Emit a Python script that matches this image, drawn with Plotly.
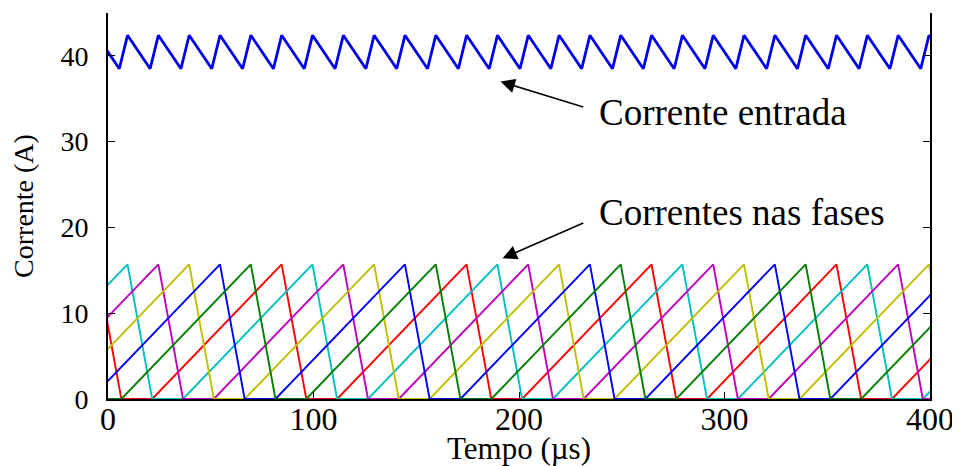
import plotly.graph_objects as go

# Input current (breakpoints of the sawtooth)
t_input = [-5.5, 5.5, 9.5, 20.5, 24.5, 35.5, 39.5, 50.5, 54.5, 65.5, 69.5, 80.5,
           84.5, 95.5, 99.5, 110.5, 114.5, 125.5, 129.5, 140.5, 144.5, 155.5,
           159.5, 170.5, 174.5, 185.5, 189.5, 200.5, 204.5, 215.5, 219.5, 230.5,
           234.5, 245.5, 249.5, 260.5, 264.5, 275.5, 279.5, 290.5, 294.5, 305.5,
           309.5, 320.5, 324.5, 335.5, 339.5, 350.5, 354.5, 365.5, 369.5, 380.5,
           384.5, 395.5, 399.5, 410.5]
i_input = [42.4, 38.5, 42.4, 38.5, 42.4, 38.5, 42.4, 38.5, 42.4, 38.5, 42.4, 38.5,
           42.4, 38.5, 42.4, 38.5, 42.4, 38.5, 42.4, 38.5, 42.4, 38.5,
           42.4, 38.5, 42.4, 38.5, 42.4, 38.5, 42.4, 38.5, 42.4, 38.5,
           42.4, 38.5, 42.4, 38.5, 42.4, 38.5, 42.4, 38.5, 42.4, 38.5,
           42.4, 38.5, 42.4, 38.5, 42.4, 38.5, 42.4, 38.5, 42.4, 38.5,
           42.4, 38.5, 42.4, 38.5]

# Phase currents (breakpoints)
t_red = [-5.5, 6.5, 21.5, 84.5, 96.5, 111.5, 174.5, 186.5, 201.5, 264.5, 276.5,
         291.5, 354.5, 366.5, 381.5, 444.5]
i_red = [15.7, 0, 0, 15.7, 0, 0, 15.7, 0, 0, 15.7, 0, 0, 15.7, 0, 0, 15.7]

t_cyan = [-53.5, 9.5, 21.5, 36.5, 99.5, 111.5, 126.5, 189.5, 201.5, 216.5, 279.5,
          291.5, 306.5, 369.5, 381.5, 396.5, 459.5]
i_cyan = [0, 15.7, 0, 0, 15.7, 0, 0, 15.7, 0, 0, 15.7, 0, 0, 15.7, 0, 0, 15.7]

t_magenta = [-38.5, 24.5, 36.5, 51.5, 114.5, 126.5, 141.5, 204.5, 216.5, 231.5,
             294.5, 306.5, 321.5, 384.5, 396.5, 411.5]
i_magenta = [0, 15.7, 0, 0, 15.7, 0, 0, 15.7, 0, 0, 15.7, 0, 0, 15.7, 0, 0]

t_yellow = [-23.5, 39.5, 51.5, 66.5, 129.5, 141.5, 156.5, 219.5, 231.5, 246.5,
            309.5, 321.5, 336.5, 399.5, 411.5]
i_yellow = [0, 15.7, 0, 0, 15.7, 0, 0, 15.7, 0, 0, 15.7, 0, 0, 15.7, 0]

t_blue = [-8.5, 54.5, 66.5, 81.5, 144.5, 156.5, 171.5, 234.5, 246.5, 261.5,
          324.5, 336.5, 351.5, 414.5]
i_blue = [0, 15.7, 0, 0, 15.7, 0, 0, 15.7, 0, 0, 15.7, 0, 0, 15.7]

t_green = [-20.5, -8.5, 6.5, 69.5, 81.5, 96.5, 159.5, 171.5, 186.5, 249.5, 261.5,
           276.5, 339.5, 351.5, 366.5, 429.5]
i_green = [15.7, 0, 0, 15.7, 0, 0, 15.7, 0, 0, 15.7, 0, 0, 15.7, 0, 0, 15.7]

x_ticks = [0, 100, 200, 300, 400]
y_ticks = [0, 10, 20, 30, 40]

phases = [
    (t_red, i_red, "rgb(255,0,0)"),
    (t_cyan, i_cyan, "rgb(0,191,191)"),
    (t_magenta, i_magenta, "rgb(191,0,191)"),
    (t_yellow, i_yellow, "rgb(191,191,0)"),
    (t_blue, i_blue, "rgb(0,0,255)"),
    (t_green, i_green, "rgb(0,128,0)"),
]

FONT = "Liberation Serif, Times New Roman, serif"

fig = go.Figure()
for t, i, c in phases:
    fig.add_trace(go.Scatter(x=t, y=i, mode="lines",
                             line=dict(color=c, width=1.9), showlegend=False))
fig.add_trace(go.Scatter(x=t_input, y=i_input, mode="lines",
                         line=dict(color="rgb(0,0,235)", width=2.8), showlegend=False))

fig.add_annotation(x=191, y=37.0, ax=232, ay=34.0, xref="x", yref="y",
                   axref="x", ayref="y", text="", showarrow=True,
                   arrowhead=2, arrowsize=1.8, arrowwidth=1.6, arrowcolor="black")
fig.add_annotation(x=238, y=33.4, xref="x", yref="y", text="Corrente entrada",
                   showarrow=False, xanchor="left", yanchor="middle",
                   font=dict(family=FONT, size=37, color="black"))
fig.add_annotation(x=192, y=16.4, ax=232, ay=20.6, xref="x", yref="y",
                   axref="x", ayref="y", text="", showarrow=True,
                   arrowhead=2, arrowsize=1.8, arrowwidth=1.6, arrowcolor="black")
fig.add_annotation(x=238, y=21.7, xref="x", yref="y", text="Correntes nas fases",
                   showarrow=False, xanchor="left", yanchor="middle",
                   font=dict(family=FONT, size=37, color="black"))

# page body adds 8 px on the left/top, so the figure is 952x458
fig.update_layout(
    width=952, height=458,
    margin=dict(l=100, r=30, t=5, b=67),
    paper_bgcolor="white", plot_bgcolor="white",
    font=dict(family=FONT, color="black"),
)
fig.update_xaxes(range=[0, 400], tickvals=x_ticks, ticktext=[str(v) for v in x_ticks],
                 automargin=False, ticklabelstandoff=-9,
                 showgrid=False, zeroline=False, showline=True, linecolor="black",
                 linewidth=2, ticks="inside", ticklen=7, tickcolor="black",
                 tickfont=dict(family=FONT, size=32, color="black"),
                 title=dict(text="Tempo (µs)", font=dict(family=FONT, size=31, color="black"),
                            standoff=3))
fig.update_yaxes(range=[0, 45], tickvals=y_ticks, ticktext=[str(v) for v in y_ticks],
                 automargin=False, ticklabelstandoff=12,
                 showgrid=False, zeroline=False, showline=True, linecolor="black",
                 linewidth=2, mirror="ticks", ticks="inside", ticklen=7, tickcolor="black",
                 tickfont=dict(family=FONT, size=28, color="black"),
                 title=dict(text="Corrente (A)", font=dict(family=FONT, size=28, color="black"),
                            standoff=20))

fig.write_html("out.html")
